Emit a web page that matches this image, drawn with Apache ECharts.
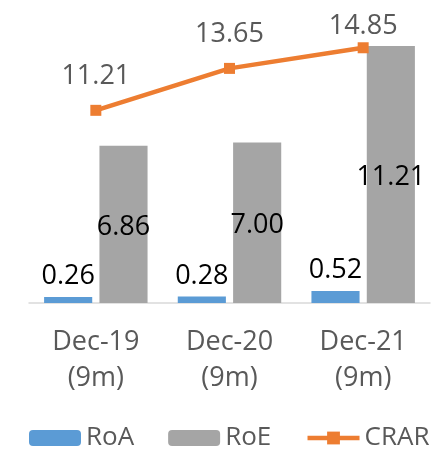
<!DOCTYPE html>
<html>
<head>
<meta charset="utf-8">
<script src="https://cdn.jsdelivr.net/npm/echarts@6/dist/echarts.min.js"></script>
<style>
  html, body { margin: 0; padding: 0; background: #fff; }
  #main { width: 437px; height: 451px; }
</style>
</head>
<body>
<div id="main"></div>
<script>
// data
var categories = ['Dec-19\n(9m)', 'Dec-20\n(9m)', 'Dec-21\n(9m)'];
var roa = [0.26, 0.28, 0.52];
var roe = [6.86, 7.00, 11.21];
var crar = [11.21, 13.65, 14.85];

var font = 'Open Sans';
var colors = ['#5B9BD5', '#A5A5A5', '#ED7D31'];

var myChart = echarts.init(document.getElementById('main'));

function fmt(p) { return p.value.toFixed(2); }

var option = {
    color: colors,
    animation: false,
    textStyle: { fontFamily: font },
    legend: {
        left: 29,
        top: 425,
        width: 408,
        padding: 0,
        itemWidth: 52,
        itemHeight: 16,
        itemGap: 34,
        textStyle: { fontSize: 26, color: '#595959', fontFamily: font },
        data: ['RoA', 'RoE', { name: 'CRAR', lineStyle: { width: 4.5 } }]
    },
    grid: {
        left: 29,
        right: 7,
        top: 28,
        bottom: 148
    },
    xAxis: {
        type: 'category',
        data: categories,
        axisTick: { show: false },
        axisLine: { lineStyle: { color: '#D9D9D9', width: 1.5 } },
        axisLabel: {
            color: '#595959',
            fontSize: 27,
            lineHeight: 36,
            margin: 21,
            fontFamily: font
        }
    },
    yAxis: [
        { type: 'value', min: 0, max: 12, show: false, splitLine: { show: false } },
        { type: 'value', min: 0, max: 16, show: false, splitLine: { show: false } }
    ],
    series: [
        {
            name: 'RoA',
            type: 'bar',
            barWidth: '36%',
            barGap: '15%',
            data: roa,
            label: {
                show: true,
                position: 'top',
                distance: 7,
                color: '#000',
                fontSize: 27,
                fontFamily: font,
                formatter: fmt
            }
        },
        {
            name: 'RoE',
            type: 'bar',
            barWidth: '36%',
            data: roe,
            label: {
                show: true,
                position: 'inside',
                offset: [0, 3],
                color: '#000',
                fontSize: 27,
                fontFamily: font,
                formatter: fmt
            }
        },
        {
            name: 'CRAR',
            type: 'line',
            yAxisIndex: 1,
            symbol: 'rect',
            symbolSize: 11,
            lineStyle: { width: 4.5 },
            data: crar.map(function (v, i) {
                // last label sits lower in the reference
                return i === crar.length - 1 ? { value: v, label: { distance: 2 } } : v;
            }),
            label: {
                show: true,
                position: 'top',
                distance: 15,
                color: '#595959',
                fontSize: 27,
                fontFamily: font,
                formatter: fmt
            }
        }
    ]
};

myChart.setOption(option);
</script>
</body>
</html>
